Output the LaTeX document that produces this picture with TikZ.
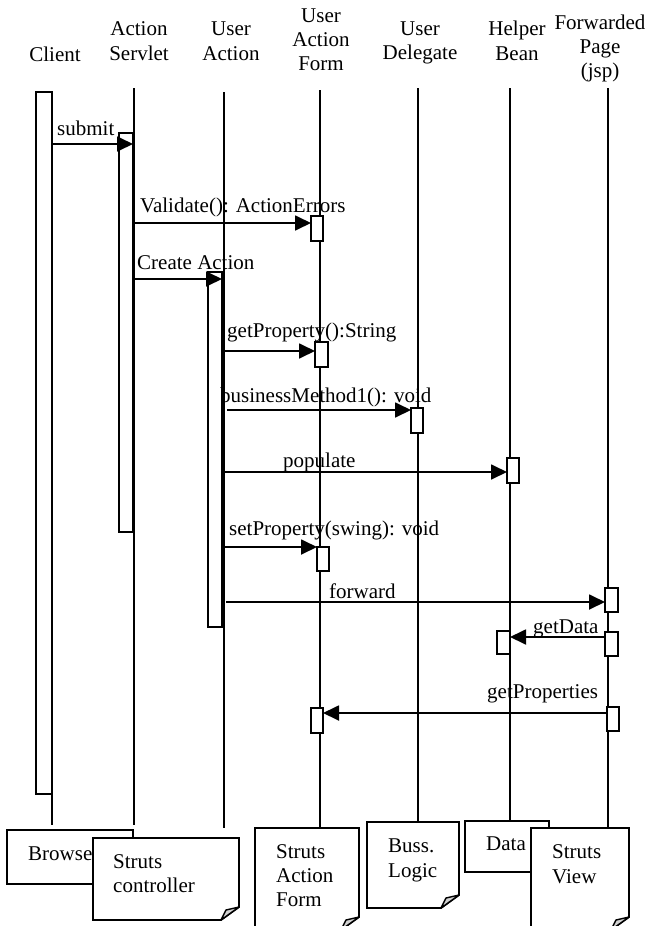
\documentclass[tikz,border=0pt]{standalone}
\usepackage{fontspec}
\setmainfont{Liberation Serif}
\usetikzlibrary{arrows.meta,calc}
\newcommand\fs{\fontsize{21}{24}\selectfont}
\tikzset{
  lifeline/.style={line width=1.8pt},
  actbox/.style={draw, line width=1.8pt, fill=white, inner sep=0pt, outer sep=0pt},
  msg/.style={line width=1.8pt, -{Triangle[length=16pt,width=15pt]}},
  lbl/.style={font=\fs, inner sep=0pt, anchor=base west},
  hdr/.style={font=\fs, inner sep=0pt, anchor=base},
  notebox/.style={draw, line width=1.8pt, fill=white},
  foldtri/.style={draw, line width=1.4pt, fill=gray!35, line join=round}
}
\newcommand\foldnote[5]{%
  \path[notebox] (#2,#3) -- (#4,#3) -- (#4,#5-13) -- (#4-18,#5) -- (#2,#5) -- cycle;
  \path[foldtri] (#4,#5-13) -- (#4-13,#5-10) -- (#4-18,#5) -- cycle;
  \coordinate (#1) at (#2/2+#4/2,#3);}
\begin{document}
\begin{tikzpicture}[x=1pt,y=-1pt]
\clip (0,0) rectangle (648,926);
\useasboundingbox (0,0) rectangle (648,926);

% headers
\node[hdr] (hcl) at (55,61) {Client};
\node[hdr] (hsv1) at (139,35) {Action};
\node[hdr] (hsv2) at (139,60) {Servlet};
\node[hdr] (hua1) at (231,35) {User};
\node[hdr] (hua2) at (231,60) {Action};
\node[hdr] (huf1) at (321,22) {User};
\node[hdr] (huf2) at (321,46) {Action};
\node[hdr] (huf3) at (321,70) {Form};
\node[hdr] (hud1) at (420,35) {User};
\node[hdr] (hud2) at (420,59) {Delegate};
\node[hdr] (hhb1) at (517,35) {Helper};
\node[hdr] (hhb2) at (517,60) {Bean};
\node[hdr] (hfp1) at (600,29) {Forwarded};
\node[hdr] (hfp2) at (600,53) {Page};
\node[hdr] (hfp3) at (600,77) {(jsp)};

% lifeline end points
\coordinate (clb) at (52,825);
\coordinate (svt) at (134,88);  \coordinate (svb) at (134,825);
\coordinate (uat) at (224,92);  \coordinate (uab) at (224,828);
\coordinate (uft) at (320,90);  \coordinate (ufb) at (320,828);
\coordinate (udt) at (418,88);  \coordinate (udb) at (418,822);
\coordinate (hbt) at (510,88);  \coordinate (hbb) at (510,821);
\coordinate (fpt) at (608,88);  \coordinate (fpb) at (608,828);

% activation boxes
\node[actbox, minimum width=16pt, minimum height=702pt] (cl) at (44,443) {};
\draw[lifeline] (cl.south east) -- (clb);
\node[actbox, minimum width=14pt, minimum height=399pt] (sv) at (126,332.5) {};
\node[actbox, minimum width=14pt, minimum height=355pt] (ua) at (215,449.5) {};

\draw[lifeline] (svt) -- (svb);
\draw[lifeline] (uat) -- (uab);
\draw[lifeline] (uft) -- (ufb);
\draw[lifeline] (udt) -- (udb);
\draw[lifeline] (hbt) -- (hbb);
\draw[lifeline] (fpt) -- (fpb);

\node[actbox, minimum width=12pt, minimum height=25pt] (f1) at (317,228.5) {};
\node[actbox, minimum width=13pt, minimum height=25pt] (f2) at (321.5,354.5) {};
\node[actbox, minimum width=12pt, minimum height=24pt] (f3) at (323,559) {};
\node[actbox, minimum width=12pt, minimum height=25pt] (d1) at (417,420.5) {};
\node[actbox, minimum width=12pt, minimum height=25pt] (hb1) at (513,470.5) {};
\node[actbox, minimum width=13pt, minimum height=24pt] (fp1) at (611.5,600) {};
\node[actbox, minimum width=13pt, minimum height=24pt] (fp2) at (611.5,644) {};
\node[actbox, minimum width=13pt, minimum height=23pt] (hb2) at (503.5,642.5) {};
\node[actbox, minimum width=12pt, minimum height=24pt] (fp3) at (613,719) {};
\node[actbox, minimum width=12pt, minimum height=25pt] (f4) at (317,720.5) {};

% messages
\draw[msg] (cl.east |- 0,144) -- (sv.east |- 0,144);
\node[lbl] (l1) at (57,135) {submit};
\draw[msg] (sv.east |- 0,223) -- (f1.west |- 0,223);
\node[lbl] (l2) at (140,212) {Validate(): ActionErrors};
\draw[msg] (sv.east |- 0,279) -- (ua.east |- 0,279);
\node[lbl] (l3) at (137,269) {Create Action};
\draw[msg] (ua.east |- 0,351) -- (f2.west |- 0,351);
\node[lbl] (l4) at (227,337) {getProperty():String};
\draw[msg] ($(ua.east |- 0,410)+(5,0)$) -- (d1.west |- 0,410);
\node[lbl] (l5) at (220,402) {businessMethod1(): void};
\draw[msg] (ua.east |- 0,472) -- (hb1.west |- 0,472);
\node[lbl] (l6) at (283,467) {populate};
\draw[msg] (ua.east |- 0,547) -- (f3.west |- 0,547);
\node[lbl] (l7) at (229,535) {setProperty(swing): void};
\draw[msg] ($(ua.east |- 0,602)+(4,0)$) -- (fp1.west |- 0,602);
\node[lbl] (l8) at (329,598) {forward};
\draw[msg] (fp2.west |- 0,637) -- (hb2.east |- 0,637);
\node[lbl] (l9) at (533,633) {getData};
\draw[msg] (fp3.west |- 0,713) -- (f4.east |- 0,713);
\node[lbl] (l10) at (487,698) {getProperties};

% bottom notes
\path[notebox] (7,830) rectangle (133,884);
\node[lbl] (nbr) at (28,860) {Browser};
\foldnote{nsc}{93}{838}{239}{920}
\node[lbl] (nsc1) at (113,868) {Struts};
\node[lbl] (nsc2) at (113,892) {controller};
\foldnote{nsf}{255}{828}{359}{930}
\node[lbl] (nsf1) at (276,858) {Struts};
\node[lbl] (nsf2) at (276,882) {Action};
\node[lbl] (nsf3) at (276,906) {Form};
\foldnote{nbl}{367}{822}{459}{908}
\node[lbl] (nbl1) at (388,852) {Buss.};
\node[lbl] (nbl2) at (388,877) {Logic};
\path[notebox] (465,821) rectangle (549,872);
\node[lbl] (nda) at (486,850) {Data};
\foldnote{nsv}{531}{828}{629}{930}
\node[lbl] (nsv1) at (552,858) {Struts};
\node[lbl] (nsv2) at (552,883) {View};
\end{tikzpicture}
\end{document}
